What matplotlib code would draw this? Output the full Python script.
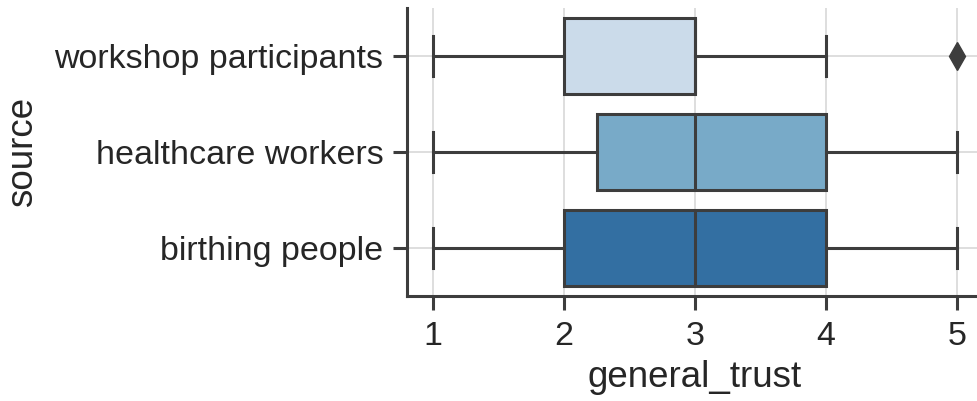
import matplotlib
matplotlib.use("Agg")
import matplotlib.pyplot as plt
import seaborn as sns

# Box statistics per source group (general_trust score, 1-5 scale)
sources = ["workshop participants", "healthcare workers", "birthing people"]
whisker_low = [1, 1, 1]
q1 = [2, 2.25, 2]
median = [3, 3, 3]
q3 = [3, 4, 4]
whisker_high = [4, 5, 5]
outliers = [[5], [], []]
x_ticks = [1, 2, 3, 4, 5]

plt.rcParams["font.family"] = ["Liberation Sans", "DejaVu Sans"]

line_col = "#3d3d3d"
palette = sns.color_palette("Blues", 3, desat=0.75)

fig = plt.figure(figsize=(9.78, 4.01), dpi=100)
ax = fig.add_axes([407 / 978, 1 - 296 / 401, 576 / 978, 288 / 401])

stats = []
for i, name in enumerate(sources):
    stats.append(dict(label=name, whislo=whisker_low[i], q1=q1[i], med=median[i],
                      q3=q3[i], whishi=whisker_high[i], fliers=outliers[i]))

lw = 2.2
positions = list(range(len(sources)))
bp = ax.bxp(stats, positions=positions, vert=False, widths=0.8, patch_artist=True,
            capwidths=0.42,
            boxprops=dict(edgecolor=line_col, linewidth=lw),
            medianprops=dict(color=line_col, linewidth=lw),
            whiskerprops=dict(color=line_col, linewidth=lw),
            capprops=dict(color=line_col, linewidth=lw),
            flierprops=dict(marker="d", markerfacecolor=line_col, markeredgecolor=line_col,
                            markersize=14))
for patch, c in zip(bp["boxes"], palette):
    patch.set_facecolor(c)
for art in bp["boxes"] + bp["medians"] + bp["whiskers"] + bp["caps"] + bp["fliers"]:
    art.set_zorder(3)

ax.set_xlim(0.8, 5.2)
ax.set_ylim(2.5, -0.5)
ax.set_xticks(x_ticks)
ax.set_xticklabels([str(v) for v in x_ticks])
ax.set_yticks(positions)
ax.set_yticklabels(sources)

ax.grid(True, color="#d8d8d8", linewidth=1.2, zorder=0)
ax.set_axisbelow(True)

for side in ["top", "right"]:
    ax.spines[side].set_visible(False)
for side in ["left", "bottom"]:
    ax.spines[side].set_color(line_col)
    ax.spines[side].set_linewidth(lw)

ax.tick_params(axis="both", colors=line_col, length=10, width=lw, labelsize=24.5,
               labelcolor="#262626")
ax.tick_params(axis="x", pad=8)
ax.tick_params(axis="y", pad=7)

ax.set_xlabel("general_trust", fontsize=26.5, color="#262626", labelpad=6)
ax.set_ylabel("source", fontsize=26.5, color="#262626", labelpad=10)

fig.savefig("out.png", dpi=100)
